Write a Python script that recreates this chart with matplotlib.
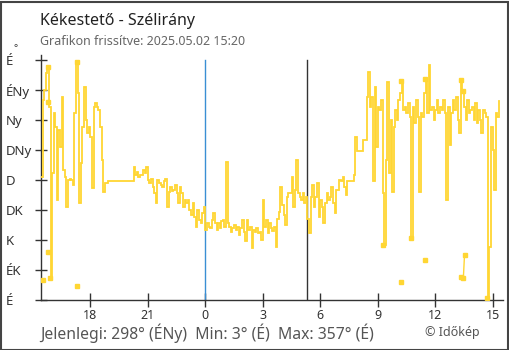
import numpy as np
import matplotlib
matplotlib.use("Agg")
import matplotlib.pyplot as plt
from matplotlib.patches import Rectangle

plt.rcParams['font.family'] = ['Noto Sans', 'DejaVu Sans']

# Wind direction (degrees), one reading every 5 minutes, 15:25 -> 15:20 next day
dir_rows = [
    [185, 300, 315, 340, 350, 290, 33, 190, 280, 260, 150, 255],
    [230, 305, 195, 185, 140, 180, 182, 180, 172, 280, 357, 310],
    [145, 205, 260, 320, 270, 250, 260, 245, 168, 290, 295, 290],
    [285, 260, 210, 162, 175, 176, 178, 178, 178, 178, 178, 178],
    [178, 178, 178, 178, 178, 178, 178, 178, 178, 178, 200, 188],
    [192, 185, 187, 188, 195, 190, 200, 180, 175, 182, 170, 160],
    [145, 180, 175, 172, 170, 178, 182, 140, 162, 170, 163, 165],
    [172, 160, 145, 170, 160, 140, 150, 145, 150, 135, 128, 145],
    [125, 110, 135, 120, 115, 130, 140, 105, 115, 110, 108, 120],
    [130, 115, 105, 115, 108, 118, 120, 110, 207, 115, 110, 102],
    [108, 112, 105, 110, 98, 108, 120, 102, 88, 120, 105, 110],
    [78, 105, 102, 108, 100, 102, 90, 150, 110, 120, 100, 115],
    [108, 104, 110, 80, 122, 132, 170, 142, 128, 112, 155, 160],
    [160, 185, 140, 165, 210, 160, 155, 150, 160, 145, 155, 122],
    [100, 155, 172, 140, 155, 175, 125, 150, 140, 115, 145, 160],
    [150, 155, 170, 145, 130, 165, 165, 180, 178, 185, 170, 158],
    [178, 178, 178, 178, 188, 245, 224, 224, 224, 224, 240, 240],
    [305, 342, 290, 305, 178, 320, 230, 290, 285, 300, 160, 82],
    [210, 327, 190, 270, 162, 260, 285, 270, 300, 310, 328, 285],
    [290, 280, 295, 275, 93, 290, 265, 300, 275, 162, 280, 275],
    [310, 332, 280, 352, 285, 290, 270, 285, 300, 280, 290, 285],
    [300, 280, 150, 290, 232, 280, 300, 285, 305, 270, 250, 330],
    [313, 290, 270, 300, 280, 285, 290, 270, 295, 265, 285, 270],
    [250, 285, 280, 275, 3, 80, 260, 225, 165, 280, 275, 298],
]
directions = np.array([v for row in dir_rows for v in row], dtype=float)
start_hour = 15 + 25 / 60          # 15:25 on the first day
step_minutes = 5
hours = start_hour + np.arange(len(directions)) * step_minutes / 60

# Single readings that stand apart from the trace (NaN breaks the line)
lone_hours = [15.51, np.nan, 15.77, np.nan, 15.77, np.nan, 15.77, np.nan, 15.90, np.nan,
              17.29, np.nan, 17.29, np.nan, 33.30, np.nan, 34.19, np.nan, 34.19, np.nan,
              34.76, np.nan, 35.49, np.nan, 35.49, np.nan, 37.37, np.nan, 37.47, np.nan,
              37.37, np.nan, 37.47, 37.53, np.nan, 38.72]
lone_dirs = [30, np.nan, 350, np.nan, 297, np.nan, 72, np.nan, 33, np.nan,
             357, np.nan, 21, np.nan, 82, np.nan, 328, np.nan, 27, np.nan,
             93, np.nan, 60, np.nan, 332, np.nan, 330, np.nan, 313, np.nan,
             34, np.nan, 33, 67, np.nan, 3]

x_ticks = [18, 21, 24, 27, 30, 33, 36, 39]
x_labels = ['18', '21', '0', '3', '6', '9', '12', '15']
y_ticks = [0, 45, 90, 135, 180, 225, 270, 315, 360]
y_labels = ['É', 'ÉK', 'K', 'DK', 'D', 'DNy', 'Ny', 'ÉNy', 'É']

midnight = 24.0
sunrise = 29.32

current_text = 'Jelenlegi: 298° (ÉNy)  Min: 3° (É)  Max: 357° (É)'

W, H = 510, 350
fig = plt.figure(figsize=(W / 100, H / 100), dpi=100)
fig.patch.set_facecolor('white')
ax = fig.add_axes([41 / W, 50 / H, (503 - 41) / W, 245 / H])

line_color = '#FFD633'
ax.plot(hours, directions, color=line_color, lw=1.3, drawstyle='steps-post',
        solid_joinstyle='miter', zorder=3)
ax.plot(lone_hours, lone_dirs, color=line_color, lw=1.0, marker='s', ms=3.2,
        mec=line_color, mfc=line_color, zorder=3)

ax.axvline(midnight, ymin=0, ymax=360 / 367.5, color='#3a8fd4', lw=1.0, zorder=2)
ax.axvline(sunrise, ymin=0, ymax=360 / 367.5, color='#333333', lw=1.0, zorder=2)

ax.set_xlim(15.42, 39.54)
ax.set_ylim(0, 367.5)

for side in ('top', 'right'):
    ax.spines[side].set_visible(False)
for side in ('left', 'bottom'):
    ax.spines[side].set_color('#333333')
    ax.spines[side].set_linewidth(1.0)

ax.set_xticks(x_ticks)
ax.set_xticklabels(x_labels)
ax.set_yticks(y_ticks)
ax.set_yticklabels(y_labels)
ax.tick_params(axis='x', direction='inout', length=10, width=1.0, color='#333333',
               labelsize=9, labelcolor='#333333', pad=1.5)
ax.tick_params(axis='y', direction='inout', length=8.6, width=1.0, color='#333333',
               labelsize=9.5, labelcolor='#333333', pad=20.9)
for lab in ax.get_yticklabels():
    lab.set_horizontalalignment('left')
ax.get_xticklines()[2 * x_ticks.index(24)].set_color('#3a8fd4')

fig.text(40 / W, 1 - 25 / H, 'Kékestető - Szélirány', fontsize=11.5, color='#222222',
         ha='left', va='baseline')
fig.text(40 / W, 1 - 45 / H, 'Grafikon frissítve: 2025.05.02 15:20', fontsize=9,
         color='#666666', ha='left', va='baseline')
fig.text(14 / W, 1 - 51 / H, '°', fontsize=7, color='#333333', ha='left', va='baseline')
fig.text(40 / W, 1 - 339 / H, current_text, fontsize=11.3, color='#555555',
         ha='left', va='baseline')
fig.text(425 / W, 1 - 336 / H, '© Időkép', fontsize=9, color='#555555',
         ha='left', va='baseline')

fig.add_artist(Rectangle((0.5 / W, 0.5 / H), 1 - 2 / W, 1 - 2 / H, transform=fig.transFigure,
                         fill=False, edgecolor='#444444', lw=1.5))

fig.savefig('out.png', dpi=100)
